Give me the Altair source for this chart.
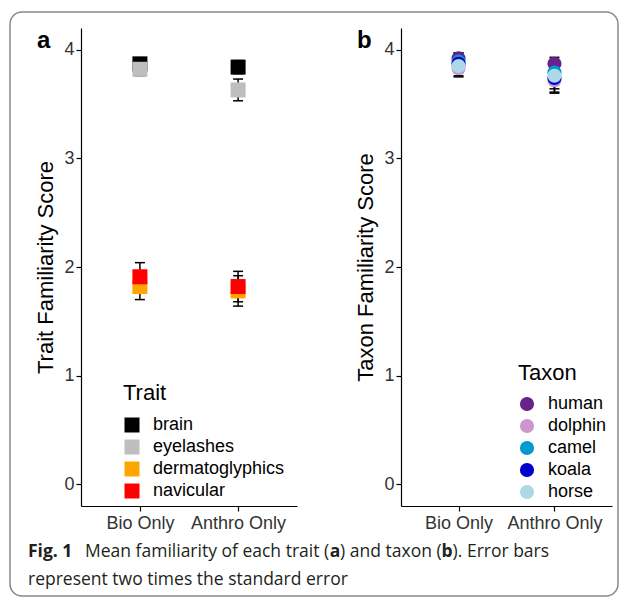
import altair as alt
import pandas as pd

conditions = ["Bio Only", "Anthro Only"]

traits = ["brain", "eyelashes", "dermatoglyphics", "navicular"]
trait_colors = ["#000000", "#BEBEBE", "#FFA500", "#FF0000"]
trait_bio_mean = [3.87, 3.82, 1.82, 1.91]
trait_bio_err = [0.05, 0.06, 0.12, 0.13]
trait_anthro_mean = [3.84, 3.63, 1.78, 1.82]
trait_anthro_err = [0.06, 0.10, 0.14, 0.14]

taxa = ["human", "dolphin", "camel", "koala", "horse"]
taxon_colors = ["#68228B", "#CD96CD", "#009ACD", "#0000CD", "#ADD8E6"]
taxon_bio_mean = [3.92, 3.83, 3.89, 3.87, 3.85]
taxon_bio_err = [0.05, 0.08, 0.08, 0.08, 0.09]
taxon_anthro_mean = [3.87, 3.72, 3.79, 3.74, 3.76]
taxon_anthro_err = [0.06, 0.12, 0.11, 0.13, 0.12]

y_ticks = [0, 1, 2, 3, 4]

FONT = "Liberation Sans"
CAP_FONT = "Open Sans"


def long_df(groups, key, bio_m, bio_e, an_m, an_e):
    rows = []
    for cond, means, errs in [(conditions[0], bio_m, bio_e), (conditions[1], an_m, an_e)]:
        for i, (g, m, e) in enumerate(zip(groups, means, errs)):
            rows.append({"cond": cond, key: g, "mean": m, "lo": m - e, "hi": m + e, "ord": i})
    return pd.DataFrame(rows)


def text_layer(txt, x, y, size, weight="normal", font=FONT, color="#000000"):
    return alt.Chart(pd.DataFrame({"t": [txt]})).mark_text(
        align="left", baseline="alphabetic", fontSize=size, fontWeight=weight,
        font=font, color=color
    ).encode(x=alt.value(x), y=alt.value(y), text="t:N")


def panel(df, key, groups, colors, shape, size, ytitle, letter, legend_title,
          lx, ly, tpad, width, extra=()):
    x = alt.X("cond:N", scale=alt.Scale(type="point", domain=conditions, padding=0.6),
              axis=alt.Axis(title=None, labelAngle=0, labelPadding=3))
    yscale = alt.Scale(domain=[-0.2, 4.2], nice=False, zero=False)
    yaxis = alt.Axis(title=ytitle, values=y_ticks, format="d", grid=False, titlePadding=6)

    def Y(f):
        return alt.Y(f"{f}:Q", scale=yscale, axis=yaxis)

    base = alt.Chart(df)
    rule = base.mark_rule(color="black", strokeWidth=1.5).encode(x=x, y=Y("lo"), y2="hi:Q")
    cap_lo = base.mark_tick(color="black", size=10, thickness=1.5, opacity=1).encode(x=x, y=Y("lo"))
    cap_hi = base.mark_tick(color="black", size=10, thickness=1.5, opacity=1).encode(x=x, y=Y("hi"))
    pts = base.mark_point(filled=True, shape=shape, size=size, opacity=1, strokeWidth=0).encode(
        x=x, y=Y("mean"),
        color=alt.Color(f"{key}:N", scale=alt.Scale(domain=groups, range=colors),
                        legend=alt.Legend(title=legend_title, orient="none", legendX=lx, legendY=ly,
                                          symbolType=shape, symbolSize=size, symbolOpacity=1,
                                          symbolStrokeWidth=0, rowPadding=4, titlePadding=tpad,
                                          labelOffset=12)),
        order=alt.Order("ord:Q"),
    )
    let = text_layer(letter, -44, 20, 24, weight="bold")
    return alt.layer(rule, cap_lo, cap_hi, pts, let, *extra).properties(width=width, height=478)


box = alt.Chart(pd.DataFrame({"t": [0]})).mark_rect(
    fillOpacity=0, stroke="#8a8a8a", strokeWidth=1.5, cornerRadius=12
).encode(x=alt.value(-71), x2=alt.value(537), y=alt.value(-16), y2=alt.value(568))

cap_color = "#231F20"
caption = [
    text_layer("Fig. 1", -53, 529, 17.5, "bold", CAP_FONT, cap_color),
    text_layer("Mean familiarity of each trait (", 4, 529, 17.5, "normal", CAP_FONT, cap_color),
    text_layer("a", 248.7, 529, 17.5, "bold", CAP_FONT, cap_color),
    text_layer(") and taxon (", 259.1, 529, 17.5, "normal", CAP_FONT, cap_color),
    text_layer("b", 360.5, 529, 17.5, "bold", CAP_FONT, cap_color),
    text_layer("). Error bars", 371.6, 529, 17.5, "normal", CAP_FONT, cap_color),
    text_layer("represent two times the standard error", -53, 557, 17.5, "normal", CAP_FONT, cap_color),
]

df_a = long_df(traits, "trait", trait_bio_mean, trait_bio_err, trait_anthro_mean, trait_anthro_err)
df_b = long_df(taxa, "taxon", taxon_bio_mean, taxon_bio_err, taxon_anthro_mean, taxon_anthro_err)

pa = panel(df_a, "trait", traits, trait_colors, "square", 225, "Trait Familiarity Score", "a",
           "Trait", 42, 355, 11, 216, extra=[box] + caption)
pb = panel(df_b, "taxon", taxa, taxon_colors, "circle", 200, "Taxon Familiarity Score", "b",
           "Taxon", 117, 335, 10, 211)

chart = alt.hconcat(pa, pb, spacing=104, bounds="flush").resolve_scale(
    color="independent"
).resolve_legend(color="independent").properties(
    padding={"left": 1, "top": 3, "right": 0, "bottom": 0}
).configure_view(stroke=None).configure_axis(
    domainColor="black", domainWidth=1.2, tickColor="black", tickWidth=1.2, tickSize=5,
    labelFont=FONT, labelFontSize=18, labelColor="#333333",
    titleFont=FONT, titleFontSize=22, titleFontWeight="normal", titleColor="black",
).configure_legend(
    titleFont=FONT, titleFontSize=22, titleFontWeight="normal", titleColor="black",
    labelFont=FONT, labelFontSize=18, labelColor="black",
)

chart.save("out.html", embed_options={"renderer": "svg", "actions": False})
